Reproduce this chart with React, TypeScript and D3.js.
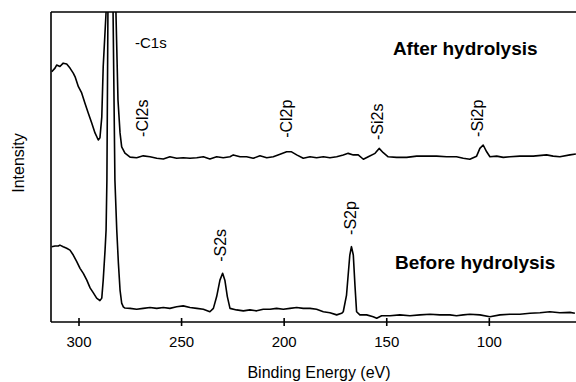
import * as d3 from "d3";

// binding energy (eV) / intensity (a.u.)
const afterEnergy = [
  313.3, 311.7, 310.9, 309.3, 307.7, 306.0, 304.4, 302.8, 301.9, 300.3, 298.7, 297.1, 295.5, 293.8,
  292.2, 290.6, 289.8, 288.9, 288.2, 286.8, 284.4, 282.0, 281.0, 280.0, 279.2, 277.6, 275.1, 271.9,
  268.7, 265.4, 262.1, 258.9, 255.7, 252.4, 249.2, 245.9, 242.6, 239.4, 236.2, 232.9, 229.7, 226.4,
  224.8, 221.5, 218.3, 215.1, 211.8, 208.5, 205.3, 202.0, 198.8, 196.4, 193.9, 190.7, 187.4, 184.2,
  180.9, 177.7, 174.4, 171.2, 168.8, 166.3, 163.9, 161.4, 159.0, 155.7, 153.7, 151.7, 149.3, 145.2,
  140.3, 135.4, 130.6, 125.7, 120.8, 116.0, 112.7, 109.5, 106.2, 104.6, 103.0, 101.3, 99.7, 96.4,
  93.2, 89.9, 85.1, 78.6, 72.1, 68.9, 65.6, 60.7, 57.8,
];
const afterIntensity = [
  80.7, 81.9, 82.9, 82.4, 83.5, 83.2, 81.9, 80.3, 79.1, 75.9, 73.9, 70.6, 67.4, 64.2,
  61.0, 58.7, 59.4, 66.1, 82.4, 100, 150, 100, 71.6, 61.0, 56.5, 54.5, 53.2, 53.0,
  53.6, 53.3, 52.8, 52.6, 53.3, 52.8, 53.0, 52.8, 53.0, 53.3, 52.6, 53.3, 53.0, 53.3,
  53.9, 53.3, 53.3, 52.8, 53.6, 53.0, 53.3, 54.1, 54.9, 54.9, 53.9, 52.8, 53.3, 53.0,
  53.3, 53.0, 53.3, 53.9, 54.4, 53.9, 53.9, 52.5, 53.3, 54.4, 56.0, 54.6, 53.3, 53.1,
  53.1, 53.5, 53.5, 53.5, 53.3, 53.3, 52.8, 52.5, 53.5, 56.0, 57.1, 54.9, 53.3, 53.5,
  53.1, 53.3, 53.5, 53.5, 53.9, 53.5, 53.3, 53.9, 54.2,
];

const beforeEnergy = [
  313.3, 311.7, 310.1, 309.3, 307.7, 306.0, 304.4, 302.8, 301.1, 299.5, 297.9, 296.2, 294.6, 293.0,
  291.4, 289.8, 288.9, 288.2, 287.3, 286.8, 286.4, 285.9, 284.7, 283.4, 282.5, 281.6, 280.8, 280.0,
  279.2, 278.4, 277.6, 275.1, 271.9, 268.7, 265.4, 262.1, 258.9, 255.7, 252.4, 249.2, 245.9, 242.6,
  239.4, 236.2, 234.5, 232.9, 231.3, 230.0, 228.9, 227.7, 226.4, 223.2, 219.9, 216.7, 213.4, 210.2,
  206.9, 203.7, 200.4, 197.2, 193.9, 190.7, 187.4, 184.2, 180.9, 177.7, 174.4, 172.0, 171.2, 169.6,
  168.0, 167.2, 166.3, 165.5, 164.7, 163.1, 159.8, 156.6, 154.9, 152.5, 148.4, 143.6, 138.7, 133.8,
  128.9, 124.1, 119.2, 116.0, 112.7, 109.5, 104.6, 99.7, 94.8, 90.0, 85.1, 80.2, 75.3, 70.5,
  65.6, 60.7, 58.3,
];
const beforeIntensity = [
  24.3, 24.5, 24.5, 24.8, 24.3, 23.8, 23.2, 21.6, 19.5, 17.3, 15.7, 13.5, 11.0, 9.4,
  7.7, 6.9, 7.7, 13.5, 23.2, 29.7, 45.8, 100, 180, 100, 45.8, 29.7, 19.0, 10.3,
  6.1, 4.9, 4.5, 4.4, 4.1, 4.4, 4.7, 4.4, 4.7, 4.4, 4.9, 5.2, 4.7, 4.4,
  4.1, 3.3, 4.4, 8.2, 13.5, 15.7, 13.5, 8.2, 4.4, 3.9, 3.6, 3.9, 3.6, 4.1,
  4.1, 4.4, 4.1, 4.4, 4.7, 4.4, 4.4, 4.1, 3.3, 3.0, 2.3, 2.8, 3.3, 8.7,
  21.6, 24.3, 21.6, 11.9, 3.3, 2.3, 2.3, 1.7, 1.2, 2.0, 2.0, 2.3, 2.0, 2.3,
  2.5, 2.3, 2.3, 2.0, 2.3, 2.5, 2.3, 1.7, 2.3, 2.5, 2.5, 2.8, 3.0, 3.3,
  3.0, 3.1, 2.8,
];

const xTicks = [300, 250, 200, 150, 100];

// vertical peak labels: name, energy, intensity where the label starts
const peakNames = ["-Cl2s", "-Cl2p", "-Si2s", "-Si2p", "-S2s", "-S2p"];
const peakEnergy = [268.8, 198.4, 154.3, 105.3, 230.8, 167.4];
const peakLabelAt = [59.7, 59.4, 58.7, 59.7, 19.4, 28.1];

const width = 576;
const height = 382;
const margin = { top: 12, right: 0, bottom: 60, left: 51 };
const font = "'Liberation Sans', Arial, Helvetica, sans-serif";

export default function App() {
  const x = d3.scaleLinear().domain([313.65, 57.75]).range([margin.left, width - margin.right]);
  const y = d3.scaleLinear().domain([0, 100]).range([height - margin.bottom, margin.top]);

  const line = d3
    .line<[number, number]>()
    .x(d => x(d[0]))
    .y(d => y(d[1]));

  const after = afterEnergy.map((e, i) => [e, afterIntensity[i]] as [number, number]);
  const before = beforeEnergy.map((e, i) => [e, beforeIntensity[i]] as [number, number]);

  const x0 = margin.left;
  const x1 = width - margin.right;
  const yTop = margin.top;
  const yBot = height - margin.bottom;

  return (
    <svg
      width={width}
      height={height}
      style={{ position: "absolute", left: 0, top: 0, background: "#fff" }}
      fontFamily={font}
    >
      <defs>
        <clipPath id="plot">
          <rect x={x0} y={yTop} width={x1 - x0} height={yBot - yTop} />
        </clipPath>
      </defs>

      <g clipPath="url(#plot)" fill="none" stroke="#000" strokeWidth={1.6} strokeLinejoin="round">
        <path d={line(after) ?? ""} />
        <path d={line(before) ?? ""} />
      </g>

      {/* frame */}
      <g stroke="#000" strokeWidth={1.6} fill="none">
        <line x1={x0} x2={x1} y1={yTop} y2={yTop} />
        <line x1={x0} x2={x0} y1={yTop} y2={yBot} />
        <line x1={x0} x2={x1} y1={yBot} y2={yBot} />
        {xTicks.map(t => (
          <line key={t} x1={x(t)} x2={x(t)} y1={yBot - 4} y2={yBot + 4} />
        ))}
      </g>

      {xTicks.map(t => (
        <text key={t} x={x(t)} y={yBot + 25} fontSize={15} textAnchor="middle">
          {t}
        </text>
      ))}

      <text x={319} y={yBot + 56} fontSize={16} textAnchor="middle">
        Binding Energy (eV)
      </text>
      <text transform={`translate(24,${(yTop + yBot) / 2 - 4}) rotate(-90)`} fontSize={16} textAnchor="middle">
        Intensity
      </text>

      <text x={x(272.7)} y={y(88.5)} fontSize={15}>
        -C1s
      </text>

      {peakNames.map((n, i) => (
        <text
          key={n}
          transform={`translate(${x(peakEnergy[i]) + 5},${y(peakLabelAt[i])}) rotate(-90)`}
          fontSize={16}
        >
          {n}
        </text>
      ))}

      <text x={x(147)} y={y(86)} fontSize={19} fontWeight="bold">
        After hydrolysis
      </text>
      <text x={x(146)} y={y(17)} fontSize={19} fontWeight="bold">
        Before hydrolysis
      </text>
    </svg>
  );
}
